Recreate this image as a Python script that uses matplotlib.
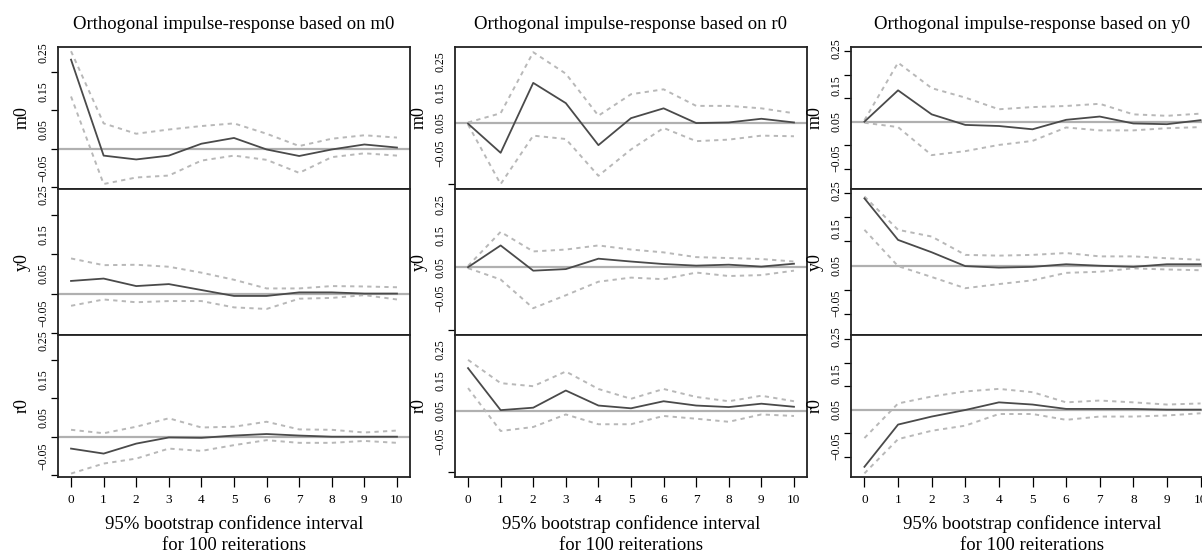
import numpy as np
import matplotlib
matplotlib.use("Agg")
import matplotlib.pyplot as plt

plt.rcParams['font.family'] = ['Liberation Serif', 'DejaVu Serif']

steps = list(range(11))
x_ticks = list(range(11))
impulses = ["m0", "r0", "y0"]
responses = ["m0", "y0", "r0"]

# impulse m0
m0_to_m0 = [0.232, -0.018, -0.028, -0.018, 0.013, 0.028, -0.002, -0.019, -0.002, 0.011, 0.003]
m0_to_m0_hi = [0.254, 0.066, 0.039, 0.050, 0.059, 0.066, 0.039, 0.007, 0.026, 0.035, 0.029]
m0_to_m0_lo = [0.136, -0.092, -0.075, -0.070, -0.031, -0.018, -0.029, -0.063, -0.022, -0.012, -0.018]
m0_to_y0 = [0.032, 0.038, 0.019, 0.024, 0.009, -0.006, -0.006, 0.003, 0.003, 0.000, 0.000]
m0_to_y0_hi = [0.089, 0.072, 0.073, 0.068, 0.053, 0.035, 0.013, 0.013, 0.019, 0.018, 0.016]
m0_to_y0_lo = [-0.031, -0.015, -0.022, -0.019, -0.019, -0.035, -0.039, -0.013, -0.011, -0.004, -0.015]
m0_to_r0 = [-0.031, -0.044, -0.018, -0.002, -0.003, 0.003, 0.007, 0.003, 0.000, 0.000, 0.000]
m0_to_r0_hi = [0.018, 0.009, 0.026, 0.048, 0.024, 0.026, 0.039, 0.019, 0.018, 0.011, 0.016]
m0_to_r0_lo = [-0.096, -0.070, -0.057, -0.031, -0.037, -0.022, -0.009, -0.016, -0.016, -0.011, -0.016]

# impulse r0
r0_to_m0 = [0.048, -0.047, 0.181, 0.115, -0.022, 0.066, 0.098, 0.050, 0.052, 0.064, 0.052]
r0_to_m0_hi = [0.052, 0.082, 0.281, 0.211, 0.074, 0.144, 0.160, 0.106, 0.106, 0.098, 0.082]
r0_to_m0_lo = [0.045, -0.149, 0.009, -0.002, -0.122, -0.036, 0.034, -0.009, -0.004, 0.009, 0.007]
r0_to_y0 = [0.050, 0.119, 0.039, 0.044, 0.077, 0.068, 0.060, 0.055, 0.058, 0.052, 0.061]
r0_to_y0_hi = [0.054, 0.162, 0.100, 0.106, 0.119, 0.106, 0.097, 0.082, 0.079, 0.076, 0.068]
r0_to_y0_lo = [0.047, 0.011, -0.080, -0.039, 0.004, 0.017, 0.012, 0.033, 0.022, 0.025, 0.039]
r0_to_r0 = [0.190, 0.053, 0.061, 0.117, 0.068, 0.059, 0.082, 0.068, 0.063, 0.074, 0.064]
r0_to_r0_hi = [0.217, 0.141, 0.131, 0.179, 0.122, 0.090, 0.122, 0.096, 0.082, 0.100, 0.082]
r0_to_r0_lo = [0.125, -0.015, -0.002, 0.039, 0.007, 0.007, 0.034, 0.025, 0.015, 0.039, 0.034]

# impulse y0
y0_to_m0 = [0.050, 0.136, 0.070, 0.041, 0.038, 0.029, 0.055, 0.064, 0.045, 0.043, 0.054]
y0_to_m0_hi = [0.054, 0.212, 0.142, 0.116, 0.084, 0.090, 0.093, 0.099, 0.070, 0.066, 0.072]
y0_to_m0_lo = [0.047, 0.035, -0.042, -0.031, -0.014, -0.003, 0.034, 0.026, 0.026, 0.032, 0.035]
y0_to_y0 = [0.230, 0.119, 0.086, 0.049, 0.045, 0.047, 0.054, 0.050, 0.047, 0.054, 0.054]
y0_to_y0_hi = [0.235, 0.146, 0.128, 0.079, 0.077, 0.079, 0.084, 0.075, 0.075, 0.070, 0.066]
y0_to_y0_lo = [0.146, 0.049, 0.020, -0.010, 0.001, 0.011, 0.031, 0.034, 0.043, 0.040, 0.038]
y0_to_r0 = [-0.107, 0.009, 0.031, 0.049, 0.070, 0.064, 0.052, 0.052, 0.052, 0.050, 0.050]
y0_to_r0_hi = [-0.028, 0.067, 0.086, 0.100, 0.107, 0.098, 0.070, 0.075, 0.070, 0.064, 0.067]
y0_to_r0_lo = [-0.125, -0.031, -0.008, 0.006, 0.038, 0.038, 0.022, 0.031, 0.031, 0.034, 0.040]

# printed axis of each column
baselines = [0.0, 0.05, 0.05]
y_limits = [(-0.105, 0.265), (-0.165, 0.298), (-0.135, 0.255)]
y_label_vals = [0.25, 0.15, 0.05, -0.05]
y_label_text = ["0.25", "0.15", "0.05", "\u22120.05"]
y_marks = [
    [0.25, 0.20, 0.15, 0.10, 0.05, 0.0, -0.05, -0.10],
    [0.25, 0.15, 0.05, -0.05, -0.15],
    [0.244, 0.179, 0.115, 0.05, -0.015, -0.079],
]

panels = [
    [(m0_to_m0, m0_to_m0_lo, m0_to_m0_hi), (m0_to_y0, m0_to_y0_lo, m0_to_y0_hi), (m0_to_r0, m0_to_r0_lo, m0_to_r0_hi)],
    [(r0_to_m0, r0_to_m0_lo, r0_to_m0_hi), (r0_to_y0, r0_to_y0_lo, r0_to_y0_hi), (r0_to_r0, r0_to_r0_lo, r0_to_r0_hi)],
    [(y0_to_m0, y0_to_m0_lo, y0_to_m0_hi), (y0_to_y0, y0_to_y0_lo, y0_to_y0_hi), (y0_to_r0, y0_to_r0_lo, y0_to_r0_hi)],
]

W, H = 1202, 552
fig = plt.figure(figsize=(W / 100, H / 100), dpi=100)

col_left = [58, 455, 851]
col_width = [352, 352, 363]
row_top = [47, 189, 335]
row_bottom = [189, 335, 477]

for c in range(3):
    for r in range(3):
        left = col_left[c] / W
        bottom = 1 - row_bottom[r] / H
        height = (row_bottom[r] - row_top[r]) / H
        ax = fig.add_axes([left, bottom, col_width[c] / W, height])
        mid, lo, hi = panels[c][r]
        ax.axhline(baselines[c], color="#b0b0b0", lw=1.6, zorder=1)
        ax.plot(steps, hi, color="#b8b8b8", lw=1.4, ls=(0, (2.2, 2.2)), zorder=2)
        ax.plot(steps, lo, color="#b8b8b8", lw=1.4, ls=(0, (2.2, 2.2)), zorder=2)
        ax.plot(steps, mid, color="#4a4a4a", lw=1.3, zorder=3)
        ax.set_xlim(-0.4, 10.4)
        ax.set_ylim(*y_limits[c])

        ax.set_yticks(y_label_vals)
        ax.set_yticklabels(y_label_text, rotation=90, va="center", fontsize=8.5)
        ax.set_yticks(y_marks[c], minor=True)
        ax.tick_params(axis="y", which="major", length=0, pad=6)
        ax.tick_params(axis="y", which="minor", length=5, width=0.9, direction="out")
        ax.set_ylabel(responses[r], fontsize=13, labelpad=5)

        for s in ax.spines.values():
            s.set_linewidth(1.3)
            s.set_color("#222222")

        if r == 2:
            ax.set_xticks(x_ticks)
            ax.set_xticklabels([str(t) for t in x_ticks], fontsize=9.5)
            ax.tick_params(axis="x", length=7, width=0.9, direction="out", pad=5)
            ax.set_xlabel("95% bootstrap confidence interval\nfor 100 reiterations",
                          fontsize=13.5, linespacing=1.25, labelpad=7)
        else:
            ax.set_xticks([])
        if r == 0:
            ax.set_title("Orthogonal impulse-response based on " + impulses[c],
                         fontsize=13.5, pad=13)

fig.savefig("out.png", dpi=100)
